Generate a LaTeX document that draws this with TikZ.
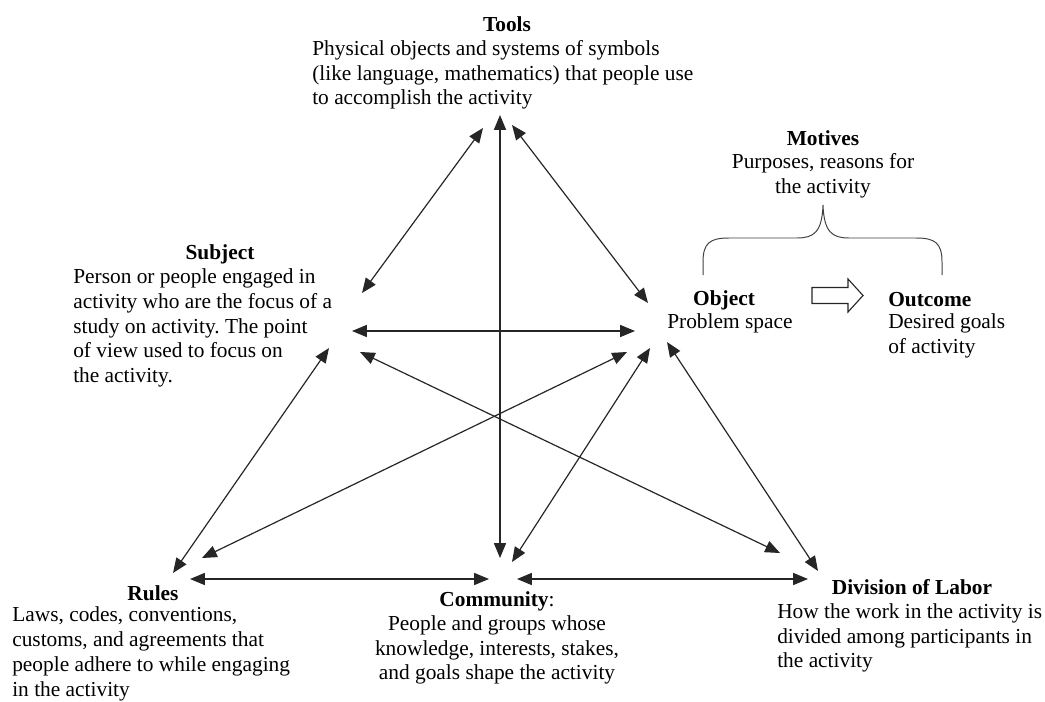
\documentclass[tikz,border=0pt]{standalone}
\usepackage{fontspec}
\setmainfont{Liberation Serif}
\usepackage{tikz}
\usetikzlibrary{arrows.meta}
\tikzset{
    % Title of a corner
    titlenode/.style={
        inner sep=0pt,
        font=\fontsize{15.2}{17.6}\selectfont\bfseries
    },
    % Explanation under a title
    textnode/.style={
        inner sep=0pt,
        align=left,
        font=\fontsize{15.2}{17.6}\selectfont\frenchspacing
    },
    % Two-headed arrow between corners
    biarrow/.style={
        {Triangle[length=0.37cm,width=0.3cm]}-{Triangle[length=0.37cm,width=0.3cm]},
        line width=0.85pt,
        draw=black!85
    },
    % Hollow arrow from object to outcome
    hollowarrow/.style={
        draw=black!85,
        fill=white,
        line width=0.8pt,
        line join=miter
    },
    % Curly brace over object and outcome
    bracestyle/.style={
        draw=black!75,
        line width=0.7pt
    }
}
\begin{document}
\begin{tikzpicture}[x=0.025cm, y=-0.025cm]
        \useasboundingbox (0,0) rectangle (1045,702);

        % Tools
        \node[titlenode] (tools) at (507,24) {Tools};
        \node[textnode, anchor=west] (toolstext) at (312,75) {Physical objects and systems of symbols\\(like language, mathematics) that people use\\to accomplish the activity};

        % Subject
        \node[titlenode] (subject) at (220,254) {Subject};
        \node[textnode, anchor=west] (subjecttext) at (73,328) {Person or people engaged in\\activity who are the focus of a\\study on activity. The point\\of view used to focus on\\the activity.};

        % Object
        \node[titlenode] (object) at (724,300) {Object};
        \node[textnode, anchor=west] (objecttext) at (667,323) {Problem space};

        % Outcome
        \node[titlenode, anchor=west] (outcome) at (888,300) {Outcome};
        \node[textnode, anchor=west] (outcometext) at (888,336) {Desired goals\\of activity};

        % Motives
        \node[titlenode] (motives) at (823,138) {Motives};
        \node[textnode, align=center] (motivestext) at (823,176) {Purposes, reasons for\\the activity};

        % Rules
        \node[titlenode] (rules) at (153,593) {Rules};
        \node[textnode, anchor=west] (rulestext) at (12,654) {Laws, codes, conventions,\\customs, and agreements that\\people adhere to while engaging\\in the activity};

        % Community
        \node[titlenode] (community) at (497,601) {Community\textmd{:}};
        \node[textnode, align=center] (communitytext) at (497,650) {People and groups whose\\knowledge, interests, stakes,\\and goals shape the activity};

        % Division of labor
        \node[titlenode] (division) at (912,587) {Division of Labor};
        \node[textnode, anchor=west] (divisiontext) at (777,638) {How the work in the activity is\\divided among participants in\\the activity};

        % Arrow ends round each corner
        \coordinate (tools-sub) at (483,128);
        \coordinate (tools-com) at (500,115);
        \coordinate (tools-obj) at (512,125);
        \coordinate (sub-tools) at (362,293);
        \coordinate (sub-obj) at (352,331);
        \coordinate (sub-rules) at (329,348);
        \coordinate (sub-div) at (360,352);
        \coordinate (obj-tools) at (648,303);
        \coordinate (obj-sub) at (635,331);
        \coordinate (obj-rules) at (627,352);
        \coordinate (obj-com) at (650,348);
        \coordinate (obj-div) at (667,342);
        \coordinate (rules-sub) at (173,573);
        \coordinate (rules-obj) at (202,558);
        \coordinate (rules-com) at (190,579);
        \coordinate (com-tools) at (500,558);
        \coordinate (com-obj) at (512,562);
        \coordinate (com-rules) at (489,579);
        \coordinate (com-div) at (517,579);
        \coordinate (div-sub) at (780,553);
        \coordinate (div-obj) at (818,571);
        \coordinate (div-com) at (808,579);

        % Arrows
        \draw[biarrow] (tools-sub) -- (sub-tools);
        \draw[biarrow] (tools-com) -- (com-tools);
        \draw[biarrow] (tools-obj) -- (obj-tools);
        \draw[biarrow] (sub-obj) -- (obj-sub);
        \draw[biarrow] (sub-rules) -- (rules-sub);
        \draw[biarrow] (sub-div) -- (div-sub);
        \draw[biarrow] (obj-rules) -- (rules-obj);
        \draw[biarrow] (obj-com) -- (com-obj);
        \draw[biarrow] (obj-div) -- (div-obj);
        \draw[biarrow] (rules-com) -- (com-rules);
        \draw[biarrow] (com-div) -- (div-com);

        % Object to outcome
        \draw[hollowarrow] (812,287.5) -- (848,287.5) -- (848,279) -- (863,295.5)
            -- (848,312) -- (848,303.5) -- (812,303.5) -- cycle;

        % Brace
        \draw[bracestyle] (703,275) -- (703,262) .. controls (703,243) and (710,238) .. (729,238)
            -- (797,238) .. controls (814,238) and (822,232) .. (823,205)
            .. controls (824,232) and (832,238) .. (849,238)
            -- (916,238) .. controls (935,238) and (942,243) .. (942,262) -- (942,275);
    \end{tikzpicture}
\end{document}
